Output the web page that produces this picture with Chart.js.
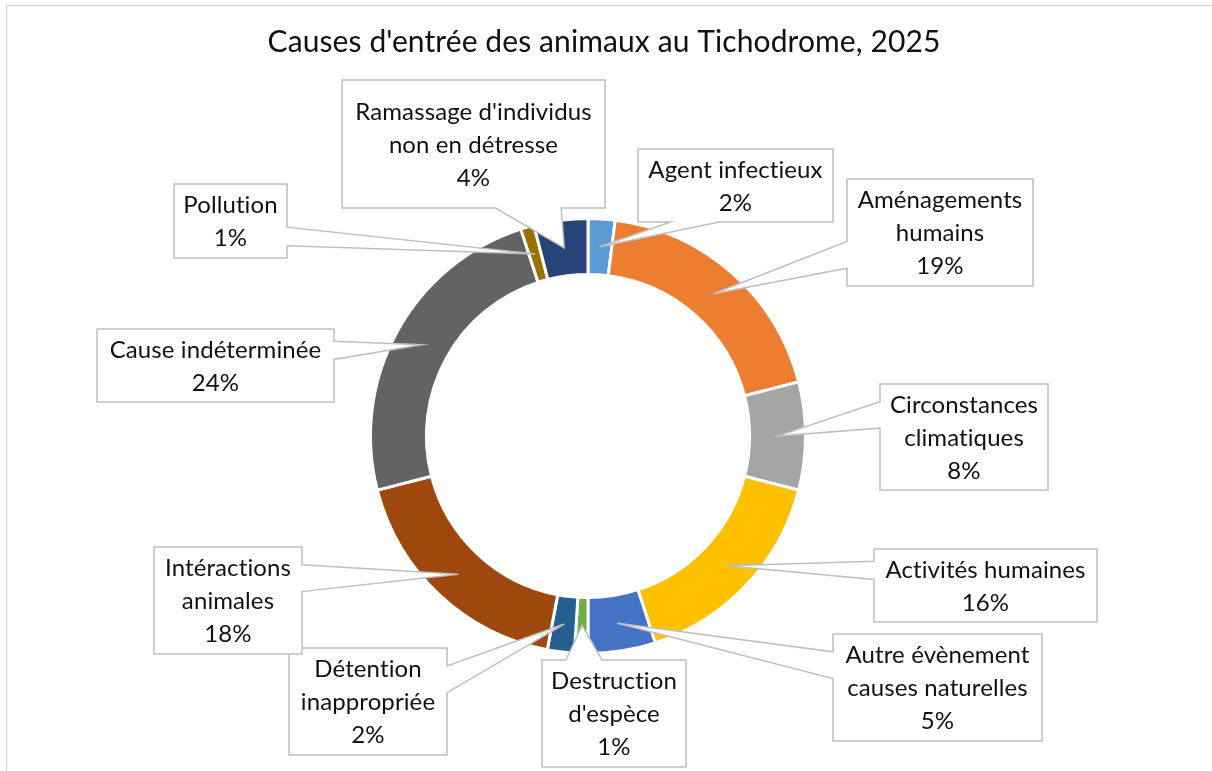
<!DOCTYPE html>
<html lang="fr">
<head>
<meta charset="utf-8">
<title>Causes d'entrée des animaux au Tichodrome, 2025</title>
<script src="https://cdn.jsdelivr.net/npm/chart.js@4/dist/chart.umd.min.js"></script>
<style>
    html, body { margin: 0; padding: 0; background: #fff; }
    #wrap { position: relative; width: 1212px; height: 771px; }
</style>
</head>
<body>
<div id="wrap"><canvas id="causesChart"></canvas></div>
<script>
// -----------------------------
// DATA
// -----------------------------
const chartTitle = "Causes d'entrée des animaux au Tichodrome, 2025";

// one entry per slice, clockwise from 12 o'clock (wrapped as in the callouts)
const categories = [
    ["Agent infectieux"],
    ["Aménagements", "humains"],
    ["Circonstances", "climatiques"],
    ["Activités humaines"],
    ["Autre évènement", "causes naturelles"],
    ["Destruction", "d'espèce"],
    ["Détention", "inappropriée"],
    ["Intéractions", "animales"],
    ["Cause indéterminée"],
    ["Pollution"],
    ["Ramassage d'individus", "non en détresse"]
];

const percents = [2, 19, 8, 16, 5, 1, 2, 18, 24, 1, 4];

const sliceColors = [
    "#5B9BD5", "#ED7D31", "#A5A5A5", "#FFC000", "#4472C4", "#70AD47",
    "#255E91", "#9E480E", "#636363", "#997300", "#264478"
];

// callout boxes, [left, top, right, bottom] in px
const calloutBoxes = [
    [638, 149, 833, 222],
    [847, 179, 1033, 286],
    [880, 384, 1048, 490],
    [874, 549, 1097, 622],
    [833, 634, 1042, 741],
    [542, 660, 686, 767],
    [289, 648, 447, 755],
    [154, 547, 302, 654],
    [97, 329, 334, 402],
    [174, 184, 287, 258],
    [342, 80, 605, 208]
];

const FONT = "Lato, 'Open Sans', sans-serif";
const LINE_COLOR = "#BFBFBF";
const TEXT_COLOR = "#111111";


// -----------------------------
// CALLOUT SHAPE (rect + wedge pointing at the slice)
// -----------------------------
function calloutPath(ctx, box, tip) {
    const [l, t, r, b] = box;
    const w = r - l, h = b - t;
    const dxPos = tip.x - (l + w / 2);
    const dyPos = tip.y - (t + h / 2);
    const dz = Math.abs(dyPos) - Math.abs(dxPos * h / w);
    const x1 = l + w * (dxPos > 0 ? 7 : 2) / 12;
    const x2 = l + w * (dxPos > 0 ? 10 : 5) / 12;
    const y1 = t + h * (dyPos > 0 ? 7 : 2) / 12;
    const y2 = t + h * (dyPos > 0 ? 10 : 5) / 12;

    ctx.beginPath();
    ctx.moveTo(l, t);
    if (dz > 0 && dyPos < 0) { ctx.lineTo(x1, t); ctx.lineTo(tip.x, tip.y); ctx.lineTo(x2, t); }
    ctx.lineTo(r, t);
    if (dz <= 0 && dxPos > 0) { ctx.lineTo(r, y1); ctx.lineTo(tip.x, tip.y); ctx.lineTo(r, y2); }
    ctx.lineTo(r, b);
    if (dz > 0 && dyPos > 0) { ctx.lineTo(x2, b); ctx.lineTo(tip.x, tip.y); ctx.lineTo(x1, b); }
    ctx.lineTo(l, b);
    if (dz <= 0 && dxPos < 0) { ctx.lineTo(l, y2); ctx.lineTo(tip.x, tip.y); ctx.lineTo(l, y1); }
    ctx.closePath();
}

const calloutPlugin = {
    id: "callouts",
    beforeDraw(chart) {
        const ctx = chart.ctx;
        ctx.save();
        // chart frame (only top / left visible in the crop)
        ctx.strokeStyle = "#D9D9D9";
        ctx.lineWidth = 1.5;
        ctx.strokeRect(6.5, 5.5, 1230, 800);
        // title
        ctx.fillStyle = TEXT_COLOR;
        ctx.font = "30px " + FONT;
        ctx.textAlign = "center";
        ctx.textBaseline = "middle";
        ctx.letterSpacing = "0.1px"; // avoid the "ti" ligature
        ctx.fillText(chartTitle, 604, 42);
        ctx.restore();
    },
    afterDatasetsDraw(chart) {
        const ctx = chart.ctx;
        const arcs = chart.getDatasetMeta(0).data;
        ctx.save();
        arcs.forEach((arc, i) => {
            const tip = arc.getCenterPoint();
            const box = calloutBoxes[i];
            calloutPath(ctx, box, tip);
            ctx.fillStyle = "#FFFFFF";
            ctx.fill();
            ctx.strokeStyle = LINE_COLOR;
            ctx.lineWidth = 1.5;
            ctx.stroke();

            const lines = chart.data.labels[i].concat([percents[i] + "%"]);
            const lh = 33;
            const cx = (box[0] + box[2]) / 2;
            const cy = (box[1] + box[3]) / 2;
            ctx.fillStyle = TEXT_COLOR;
            ctx.font = "24px " + FONT;
            ctx.letterSpacing = "0.1px";
            ctx.textAlign = "center";
            ctx.textBaseline = "middle";
            lines.forEach((txt, k) => {
                ctx.fillText(txt, cx, cy + (k - (lines.length - 1) / 2) * lh + 1);
            });
        });
        ctx.restore();
    }
};


// -----------------------------
// CHART
// -----------------------------
const ctx = document.getElementById("causesChart").getContext("2d");
const causesChart = new Chart(ctx, {
    type: "doughnut",
    data: {
        labels: categories,
        datasets: [{
            data: percents,
            backgroundColor: sliceColors,
            borderColor: "#FFFFFF",
            borderWidth: 3
        }]
    },
    options: {
        responsive: true,
        maintainAspectRatio: false,
        animation: false,
        radius: 217.5,
        cutout: "74.3%",
        layout: { padding: { left: 0, right: 36, top: 101, bottom: 0 } },
        plugins: {
            legend: { display: false },
            title: { display: false },
            tooltip: { enabled: false }
        }
    },
    plugins: [calloutPlugin]
});
</script>
</body>
</html>
